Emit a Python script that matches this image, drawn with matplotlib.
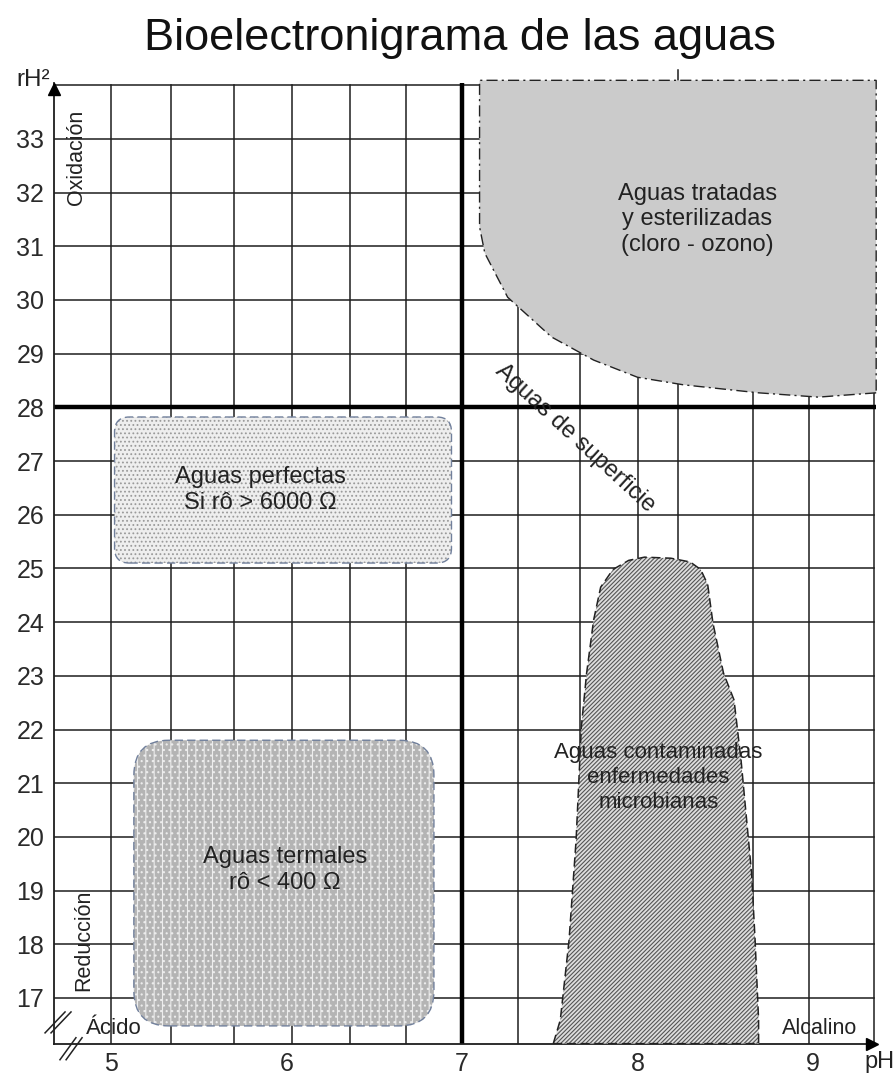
import matplotlib
matplotlib.use('Agg')
import matplotlib.pyplot as plt
from matplotlib.patches import Polygon, FancyBboxPatch

plt.rcParams['font.family'] = ['Liberation Sans', 'DejaVu Sans']
plt.rcParams['hatch.linewidth'] = 0.8

# Axis values
ph_ticks = [5, 6, 7, 8, 9]
rh_ticks = list(range(17, 34))
rh_grid = list(range(17, 35))
# hand drawn grid, the vertical lines are not evenly spaced
ph_grid = [5.0, 5.34, 5.70, 6.03, 6.36, 6.68, 7.32, 7.67, 8.0, 8.23, 8.66, 8.98, 9.35]
ph_neutral = 7.0
rh_neutral = 28.0

# Zones (pH, rH2)
tratadas_ph = [9.36, 9.03, 8.69, 8.26, 8.00, 7.75, 7.51, 7.26, 7.13, 7.10, 7.10, 9.36]
tratadas_rh = [28.27, 28.19, 28.27, 28.42, 28.56, 28.88, 29.31, 30.05, 30.87, 31.36, 34.09, 34.09]

contaminadas_ph = [7.52, 7.56, 7.61, 7.65, 7.68, 7.71, 7.75, 7.79, 7.86, 7.95, 8.04, 8.19,
                   8.30, 8.36, 8.40, 8.43, 8.49, 8.55, 8.59, 8.65, 8.67, 8.69, 8.69]
contaminadas_rh = [16.15, 16.59, 18.08, 19.94, 22.05, 23.05, 24.04, 24.65, 24.98, 25.15, 25.21, 25.19,
                   25.12, 24.98, 24.70, 23.98, 23.05, 22.55, 21.43, 19.33, 18.08, 16.59, 16.15]

perfectas_box = (5.02, 25.10, 6.94, 27.82)   # ph0, rh0, ph1, rh1
termales_box = (5.13, 16.48, 6.84, 21.80)

xlim = (4.675, 9.359)
ylim = (16.143, 34.04)
aspect = 175.5 / 53.7   # px per pH unit / px per rH unit

fig = plt.figure(figsize=(8.94, 10.77), dpi=100)
ax = fig.add_axes([54 / 894, 1 - 1044 / 1077, 822 / 894, 961 / 1077])
ax.set_xlim(*xlim)
ax.set_ylim(*ylim)

grid_kw = dict(color='#1e1e1e', lw=1.1, zorder=1)
for r in rh_grid:
    ax.plot([xlim[0], 9.35], [r, r], **grid_kw)
for p in ph_grid:
    ax.plot([p, p], [ylim[0], 34.0], **grid_kw)
ax.plot([8.23, 8.23], [34.0, 34.28], clip_on=False, **grid_kw)
ax.axvline(ph_neutral, color='black', lw=3.2, zorder=2)
ax.plot([xlim[0], xlim[1]], [rh_neutral, rh_neutral], color='black', lw=3.2, zorder=2)

# zones
ax.add_patch(Polygon(list(zip(tratadas_ph, tratadas_rh)), closed=True, facecolor='#cbcbcb',
                     edgecolor='#222222', lw=1.0, ls=(0, (8, 3, 1.5, 3)), zorder=3, clip_on=False))

ax.add_patch(Polygon(list(zip(contaminadas_ph, contaminadas_rh)), closed=True, facecolor='#dedede',
                     edgecolor='#555555', hatch='////////', lw=0, zorder=3))
ax.add_patch(Polygon(list(zip(contaminadas_ph, contaminadas_rh)), closed=True, fill=False,
                     edgecolor='#222222', lw=1.1, ls=(0, (6, 3)), zorder=4))


def rounded_box(box, radius, face, hatch, hatch_col):
    x0, y0, x1, y1 = box
    style = 'round,pad=0,rounding_size=%f' % radius
    ax.add_patch(FancyBboxPatch((x0, y0), x1 - x0, y1 - y0, boxstyle=style, mutation_aspect=aspect,
                                facecolor=face, edgecolor=hatch_col, hatch=hatch, lw=0, zorder=3))
    ax.add_patch(FancyBboxPatch((x0, y0), x1 - x0, y1 - y0, boxstyle=style, mutation_aspect=aspect,
                                fill=False, edgecolor='#71809c', lw=1.0, ls=(0, (6, 3)), zorder=4))


rounded_box(perfectas_box, 0.085, '#eeeeee', '....', '#9a9a9a')
rounded_box(termales_box, 0.2, '#b4b4b4', '||...', '#ececec')

# axes
for s in ['top', 'right']:
    ax.spines[s].set_visible(False)
for s in ['left', 'bottom']:
    ax.spines[s].set_linewidth(1.3)
    ax.spines[s].set_color('#1e1e1e')
ax.plot(xlim[0], ylim[1] - 0.12, marker='^', color='black', ms=8, clip_on=False, zorder=5)
ax.plot(xlim[1] - 0.02, ylim[0], marker='>', color='black', ms=8, clip_on=False, zorder=5)

ax.set_xticks(ph_ticks)
ax.set_yticks(rh_ticks)
ax.tick_params(length=0, labelsize=18, labelcolor='#2a2a2a')
ax.tick_params(axis='y', pad=7)
ax.tick_params(axis='x', pad=6)

# break marks
brk_kw = dict(color='#222222', lw=1.1, clip_on=False, zorder=5)
ax.plot([4.624, 4.738], [16.35, 16.74], **brk_kw)
ax.plot([4.658, 4.772], [16.35, 16.74], **brk_kw)
ax.plot([4.709, 4.80], [15.85, 16.26], **brk_kw)
ax.plot([4.744, 4.835], [15.85, 16.26], **brk_kw)

# labels
txt = dict(color='#222222', zorder=6, ha='center', va='center')
fig.text(0.515, 1 - 50 / 1077, 'Bioelectronigrama de las aguas', fontsize=32.5, ha='center',
         va='baseline', color='#111111')
ax.text(4.655, 33.98, 'rH²', fontsize=17.5, ha='right', va='baseline', color='#222222')
ax.text(9.38, 15.8, 'pH', fontsize=17, ha='center', va='center', color='#222222')
ax.text(4.806, 32.66, 'Oxidación', fontsize=15.5, rotation=90, **txt)
ax.text(4.846, 18.08, 'Reducción', fontsize=15.5, rotation=90, **txt)
ax.text(5.014, 16.43, 'Ácido', fontsize=16, **txt)
ax.text(9.04, 16.43, 'Alcalino', fontsize=15.5, **txt)

ax.text(8.34, 31.5, 'Aguas tratadas\ny esterilizadas\n(cloro - ozono)', fontsize=17,
        linespacing=1.2, **txt)
ax.text(7.644, 27.43, 'Aguas de superficie', fontsize=17, rotation=-42.5, **txt)
ax.text(5.85, 26.46, 'Aguas perfectas\nSi rô > 6000 Ω', fontsize=17, linespacing=1.25, **txt)
ax.text(5.99, 19.38, 'Aguas termales\nrô < 400 Ω', fontsize=17, linespacing=1.25, **txt)
ax.text(8.12, 21.1, 'Aguas contaminadas\nenfermedades\nmicrobianas', fontsize=16,
        linespacing=1.25, **txt)

fig.savefig('out.png', dpi=100)
